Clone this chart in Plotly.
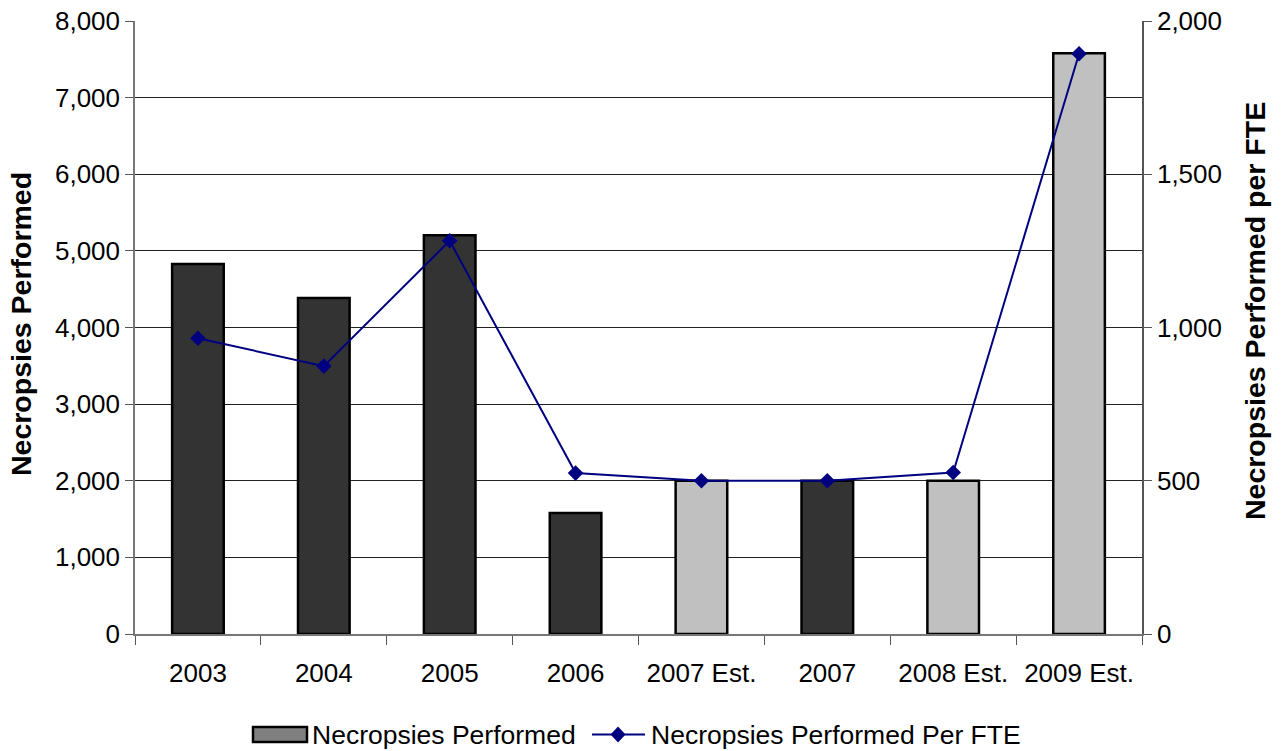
import plotly.graph_objects as go

categories = ["2003", "2004", "2005", "2006", "2007 Est.", "2007", "2008 Est.", "2009 Est."]
necropsies = [4830, 4385, 5205, 1580, 2000, 2000, 2000, 7580]
per_fte = [965, 874, 1283, 525, 500, 500, 527, 1893]

bar_colors = ["#C0C0C0" if "Est." in c else "#333333" for c in categories]

FONT = "Liberation Sans, Arial, Helvetica, sans-serif"
W, H = 1281, 751
ML, MR, MT, MB = 135, 139, 21, 117
PW, PH = W - ML - MR, H - MT - MB


def px(xp):
    return (xp - ML) / PW


def py(yp):
    return (H - MB - yp) / PH


fig = go.Figure()
fig.add_trace(go.Bar(
    x=categories, y=necropsies, name="Necropsies Performed",
    marker=dict(color=bar_colors, line=dict(color="black", width=2.5)),
    showlegend=False, yaxis="y",
))
fig.add_trace(go.Scatter(
    x=categories, y=per_fte, name="Necropsies Performed Per FTE",
    mode="lines+markers", yaxis="y2",
    line=dict(color="#000080", width=2),
    marker=dict(symbol="diamond", size=12, color="#000080"),
    showlegend=False,
))

# custom legend (drawn to match the reference's wide swatch)
ly = 734.5
shapes = [
    dict(type="rect", xref="paper", yref="paper",
         x0=px(253), x1=px(307), y0=py(742), y1=py(727),
         fillcolor="#808080", line=dict(color="black", width=2.5)),
    dict(type="line", xref="paper", yref="paper",
         x0=px(592), x1=px(645), y0=py(ly), y1=py(ly),
         line=dict(color="#000080", width=2)),
    dict(type="path", xref="paper", yref="paper",
         path="M {a},{m} L {c},{t} L {b},{m} L {c},{bo} Z".format(
             a=px(610.5), b=px(625.5), c=px(618), m=py(ly), t=py(ly - 8), bo=py(ly + 8)),
         fillcolor="#000080", line=dict(color="#000080", width=0)),
]
annotations = [
    dict(text="Necropsies Performed", xref="paper", yref="paper",
         x=px(310), y=py(ly), xanchor="left", yanchor="middle", showarrow=False,
         font=dict(size=26.5, family=FONT, color="black")),
    dict(text="Necropsies Performed Per FTE", xref="paper", yref="paper",
         x=px(649), y=py(ly), xanchor="left", yanchor="middle", showarrow=False,
         font=dict(size=26.5, family=FONT, color="black")),
    # axis titles
    dict(text="<b>Necropsies Performed</b>", xref="paper", yref="paper",
         x=px(21), y=py(324), xanchor="center", yanchor="middle", showarrow=False,
         textangle=-90, font=dict(size=28.5, family=FONT, color="black")),
    dict(text="<b>Necropsies Performed per FTE</b>", xref="paper", yref="paper",
         x=px(1255), y=py(311), xanchor="center", yanchor="middle", showarrow=False,
         textangle=-90, font=dict(size=28.5, family=FONT, color="black")),
]

fig.update_layout(
    width=W, height=H,
    margin=dict(l=ML, r=MR, t=MT, b=MB),
    paper_bgcolor="white", plot_bgcolor="white",
    font=dict(family=FONT, size=26, color="black"),
    barmode="overlay", bargap=0.59,
    showlegend=False,
    shapes=shapes, annotations=annotations,
    xaxis=dict(
        type="category", tickson="boundaries", ticks="outside", ticklen=9,
        tickcolor="#555555", showline=True, linecolor="#777777", linewidth=1.5,
        showgrid=False, tickfont=dict(size=26), ticklabelstandoff=15,
        range=[-0.5, 7.5], automargin=False,
    ),
    yaxis=dict(
        range=[0, 8000], dtick=1000, tickformat=",d",
        showgrid=True, gridcolor="#222222", gridwidth=1,
        ticks="outside", ticklen=8, tickcolor="#555555",
        showline=True, linecolor="#777777", linewidth=1.5,
        zeroline=False, tickfont=dict(size=26), automargin=False,
    ),
    yaxis2=dict(
        range=[0, 2000], dtick=500, tickformat=",d", overlaying="y", side="right",
        showgrid=False, ticks="outside", ticklen=8, tickcolor="#555555",
        showline=True, linecolor="#555555", linewidth=1.5, zeroline=False,
        tickfont=dict(size=26), automargin=False,
    ),
)

fig.write_html("out.html")
